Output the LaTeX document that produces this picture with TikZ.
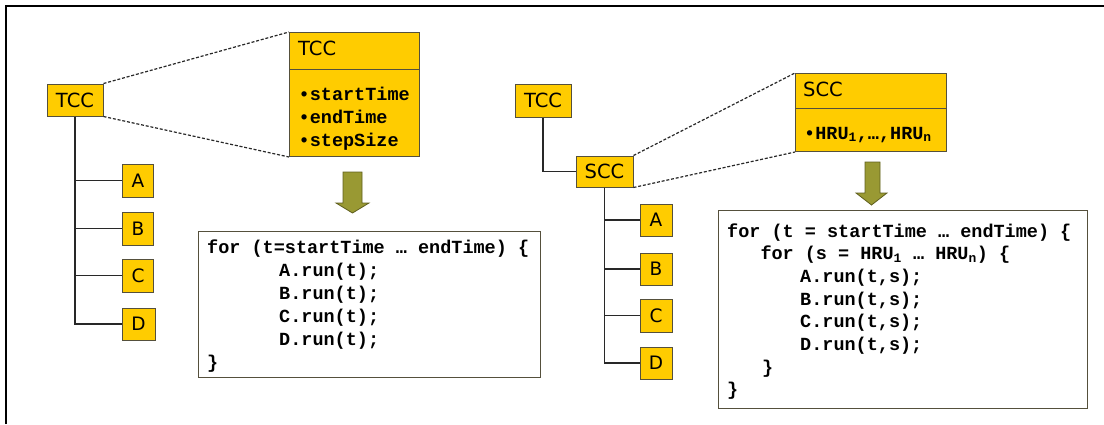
\documentclass[tikz,border=0pt]{standalone}
\usepackage{fontspec}
\setmainfont{DejaVu Sans}
\newfontfamily\codefont{Liberation Mono}
\newcommand\codesize[2]{\codefont\bfseries\fontsize{#1}{#2}\selectfont}
\newcommand\monospaces{\spaceskip=0.6em\relax\xspaceskip=0.6em\relax}
\definecolor{gold}{RGB}{255,204,0}
\definecolor{boxline}{RGB}{85,80,60}
\definecolor{olivefill}{RGB}{153,153,51}
\definecolor{olivedark}{RGB}{95,95,30}
\definecolor{wirecol}{RGB}{40,40,40}
\begin{document}
\begin{tikzpicture}[x=1pt,y=-1pt,
  ybox/.style={draw=boxline, fill=gold, line width=1pt, inner sep=0pt,
    font=\fontsize{19.5pt}{20pt}\selectfont},
  lbox/.style={ybox, minimum width=31pt, minimum height=33pt,
    font=\fontsize{18.5pt}{20pt}\selectfont},
  wire/.style={draw=wirecol, line width=1.8pt},
  zoomline/.style={draw=wirecol, line width=1.2pt, dash pattern=on 3pt off 1.8pt},
  codebox/.style={draw=boxline, fill=white, line width=1.2pt, inner sep=0pt},
  codetext/.style={inner sep=0pt, anchor=base west, align=left,
    font=\codesize{18.5pt}{23pt}},
  hdrtext/.style={inner sep=0pt, anchor=base west,
    font=\fontsize{19.5pt}{20pt}\selectfont},
  fatarrow/.style={fill=olivefill, draw=olivedark, line width=0.8pt, line join=miter}
]
\useasboundingbox (0,0) rectangle (1104,424);
% outer frame (only top and left visible)
\draw[line width=2pt, black] (6,424) -- (6,6) -- (1104,6);

% ---------------- left part ----------------
\node[ybox, minimum width=56pt, minimum height=32pt] (tccL) at (75,100) {TCC};
\node[lbox] (a) at (138,180.5) {A};
\node[lbox] (b) at (138,228.5) {B};
\node[lbox] (c) at (138,275.5) {C};
\node[lbox, minimum width=33pt, minimum height=32pt] (d) at (138.5,324) {D};
\draw[wire] (tccL.south) |- (a.west);
\draw[wire] (tccL.south) |- (b.west);
\draw[wire] (tccL.south) |- (c.west);
\draw[wire] (tccL.south) |- (d.west);

\node[ybox, anchor=north west, minimum width=130pt, minimum height=37pt] (tccHead) at (289,32) {};
\node[ybox, anchor=north west, minimum width=130pt, minimum height=87pt] (tccBody) at (289,69) {};
\node[hdrtext] (tccHeadText) at (298,55.5) {TCC};
\node[codetext, text width=120pt] (tccBodyText) at (298.5,100) {•startTime\\•endTime\\•stepSize};
\draw[zoomline] (tccL.north east) -- (tccHead.north west);
\draw[zoomline] (tccL.south east) -- (tccBody.south west);

\draw[fatarrow] (343,172) -- (362,172) -- (362,203) -- (369,203) -- (352.5,213)
  -- (336,203) -- (343,203) -- cycle;

\node[codebox, anchor=north west, minimum width=342pt, minimum height=146pt] (codeL) at (198,231) {};
\node[codetext, text width=336pt] (codeLText) at (207,253) {\monospaces for (t=startTime … endTime) \{\\
\hspace*{72pt}A.run(t);\\
\hspace*{72pt}B.run(t);\\
\hspace*{72pt}C.run(t);\\
\hspace*{72pt}D.run(t);\\
\}};

% ---------------- right part ----------------
\node[ybox, minimum width=56pt, minimum height=33pt] (tccR) at (543,100.5) {TCC};
\node[ybox, minimum width=57pt, minimum height=31pt] (sccS) at (604.5,171.5) {SCC};
\draw[wire] (tccR.south) |- (sccS.west);
\node[lbox, minimum width=32pt, minimum height=32pt] (a2) at (656,220) {A};
\node[lbox, minimum width=32pt, minimum height=32pt] (b2) at (656,269) {B};
\node[lbox, minimum width=32pt, minimum height=33pt] (c2) at (656,315.5) {C};
\node[lbox, minimum width=32pt, minimum height=32pt] (d2) at (656,363) {D};
\draw[wire] (sccS.south) |- (a2.west);
\draw[wire] (sccS.south) |- (b2.west);
\draw[wire] (sccS.south) |- (c2.west);
\draw[wire] (sccS.south) |- (d2.west);

\node[ybox, anchor=north west, minimum width=151pt, minimum height=35pt] (sccHead) at (795,73) {};
\node[ybox, anchor=north west, minimum width=151pt, minimum height=43pt] (sccBody) at (795,108) {};
\node[hdrtext] (sccHeadText) at (803,96) {SCC};
\node[codetext, text width=140pt] (sccBodyText) at (804,139) {•HRU\textsubscript{1},…,HRU\textsubscript{n}};
\draw[zoomline] (sccS.north east) -- (sccHead.north west);
\draw[zoomline] (sccS.south east) -- (sccBody.south west);

\draw[fatarrow] (865,162) -- (880,162) -- (880,193) -- (887,193) -- (871.5,205)
  -- (856,193) -- (865,193) -- cycle;

\node[codebox, anchor=north west, minimum width=369pt, minimum height=198pt] (codeR) at (718,210) {};
\node[codetext, text width=358pt, font=\codesize{18.5pt}{22.7pt}] (codeRText) at (727,237) {\monospaces for (t = startTime … endTime) \{\\
\hspace*{33.3pt}for (s = HRU\textsubscript{1} … HRU\textsubscript{n}) \{\\
\hspace*{73pt}A.run(t,s);\\
\hspace*{73pt}B.run(t,s);\\
\hspace*{73pt}C.run(t,s);\\
\hspace*{73pt}D.run(t,s);\\
\hspace*{35pt}\}\\
\}};
\end{tikzpicture}
\end{document}
